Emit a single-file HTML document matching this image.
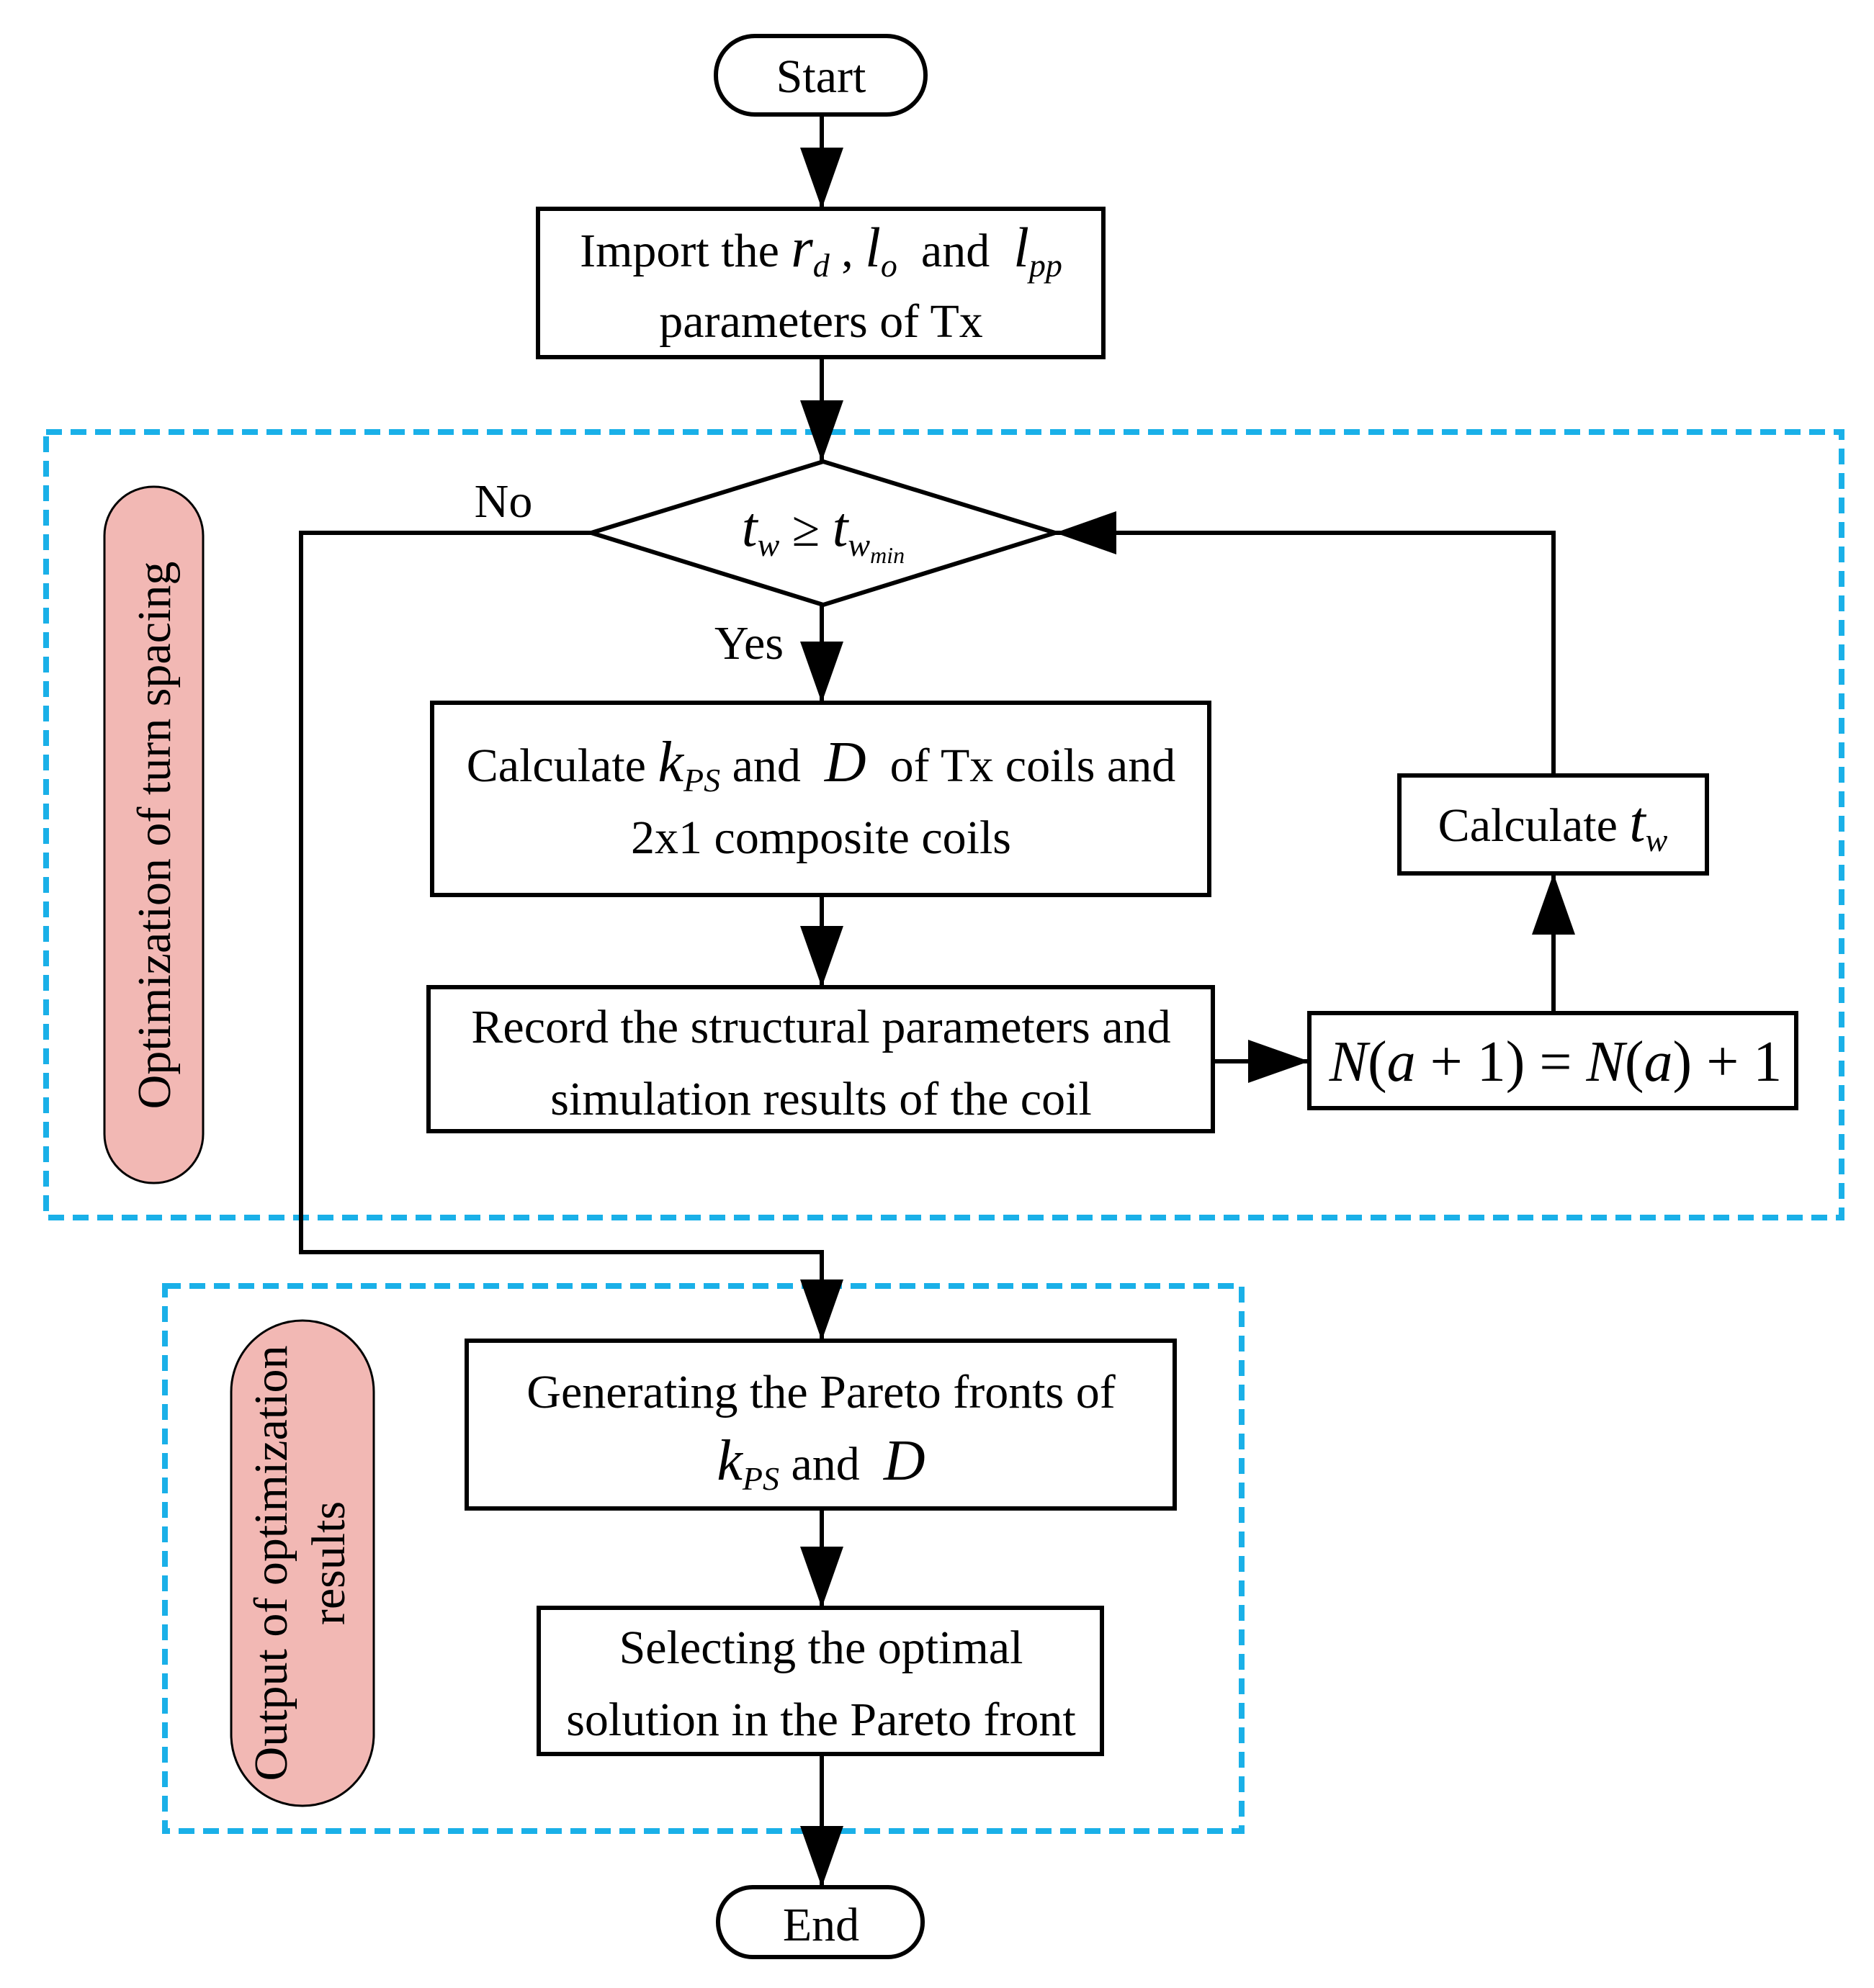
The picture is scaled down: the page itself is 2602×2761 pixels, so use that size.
<!DOCTYPE html>
<html><head><meta charset="utf-8"><style>
html,body{margin:0;padding:0;background:#fff}
svg{display:block}
text{font-family:"Liberation Serif",serif;font-size:66px;fill:#000;white-space:pre}
.i{font-style:italic}
</style></head><body>
<svg width="2602" height="2761" viewBox="0 0 2602 2761" xmlns="http://www.w3.org/2000/svg" xml:space="preserve">
<defs>
<marker id="a" markerUnits="userSpaceOnUse" markerWidth="90" markerHeight="64" refX="85" refY="30" orient="auto">
<path d="M0,0 L85,30 L0,60 Z" fill="#000"/>
</marker>
</defs>
<g fill="none" stroke="#1ab0e8" stroke-width="8" stroke-dasharray="22,12">
<rect x="64" y="600" width="2493" height="1091"/>
<rect x="229" y="1786" width="1495" height="757"/>
</g>
<g fill="#f2b8b4" stroke="#000" stroke-width="3">
<rect x="145" y="676" width="137" height="967" rx="68"/>
<rect x="321" y="1834" width="198" height="674" rx="99"/>
</g>
<text transform="translate(236,1160) rotate(-90)" text-anchor="middle">Optimization of turn spacing</text>
<text transform="translate(398,2171) rotate(-90)" text-anchor="middle">Output of optimization</text>
<text transform="translate(478,2171) rotate(-90)" text-anchor="middle">results</text>
<g fill="none" stroke="#000" stroke-width="6">
<rect x="994" y="50" width="291" height="109" rx="54" fill="#fff"/>
<rect x="747" y="290" width="785" height="206" fill="#fff"/>
<path d="M821,740 L1143,641 L1465,740 L1143,840 Z" fill="#fff"/>
<rect x="600" y="976" width="1079" height="267"/>
<rect x="595" y="1371" width="1089" height="200"/>
<rect x="1818" y="1407" width="676" height="132"/>
<rect x="1943" y="1077" width="427" height="136"/>
<rect x="648" y="1862" width="983" height="233"/>
<rect x="748" y="2233" width="782" height="203"/>
<rect x="997" y="2621" width="284" height="97" rx="48"/>
<path d="M1141,159 L1141,290" marker-end="url(#a)"/>
<path d="M1141,496 L1141,641" marker-end="url(#a)"/>
<path d="M1141,840 L1141,976" marker-end="url(#a)"/>
<path d="M1141,1243 L1141,1371" marker-end="url(#a)"/>
<path d="M1684,1474 L1818,1474" marker-end="url(#a)"/>
<path d="M2157,1407 L2157,1213" marker-end="url(#a)"/>
<path d="M2157,1077 L2157,740 L1465,740" marker-end="url(#a)"/>
<path d="M821,740 L418,740 L418,1739 L1141,1739 L1141,1862" marker-end="url(#a)"/>
<path d="M1141,2095 L1141,2233" marker-end="url(#a)"/>
<path d="M1141,2436 L1141,2621" marker-end="url(#a)"/>
</g>
<text x="1140" y="128" text-anchor="middle">Start</text>
<text x="1140" y="2695" text-anchor="middle">End</text>
<text x="1140" y="370" text-anchor="middle">Import the <tspan class="i" font-size="78">r</tspan><tspan class="i" font-size="46" dy="14">d</tspan><tspan dy="-14"> , </tspan><tspan class="i" font-size="78">l</tspan><tspan class="i" font-size="46" dy="14">o</tspan><tspan dy="-14">  and  </tspan><tspan class="i" font-size="78">l</tspan><tspan class="i" font-size="46" dy="14">pp</tspan></text>
<text x="1140" y="468" text-anchor="middle">parameters of Tx</text>
<text x="1143" y="758" text-anchor="middle"><tspan class="i" font-size="78">t</tspan><tspan class="i" font-size="46" dy="14">w</tspan><tspan dy="-14" font-size="70"> ≥ </tspan><tspan class="i" font-size="78">t</tspan><tspan class="i" font-size="46" dy="14">w</tspan><tspan class="i" font-size="32" dy="10">min</tspan></text>
<text x="699" y="718" text-anchor="middle">No</text>
<text x="1040" y="915" text-anchor="middle">Yes</text>
<text x="1140" y="1085" text-anchor="middle">Calculate <tspan class="i" font-size="80">k</tspan><tspan class="i" font-size="46" dy="14">PS</tspan><tspan dy="-14"> and  </tspan><tspan class="i" font-size="80">D</tspan><tspan>  of Tx coils and</tspan></text>
<text x="1140" y="1185" text-anchor="middle">2x1 composite coils</text>
<text x="1140" y="1448" text-anchor="middle">Record the structural parameters and</text>
<text x="1140" y="1548" text-anchor="middle">simulation results of the coil</text>
<text x="2160" y="1501" text-anchor="middle" style="font-size:80px"><tspan class="i">N</tspan>(<tspan class="i">a</tspan> + 1) = <tspan class="i">N</tspan>(<tspan class="i">a</tspan>) + 1</text>
<text x="2156" y="1168" text-anchor="middle">Calculate <tspan class="i" font-size="80">t</tspan><tspan class="i" font-size="46" dy="14">w</tspan></text>
<text x="1140" y="1955" text-anchor="middle">Generating the Pareto fronts of</text>
<text x="1140" y="2055" text-anchor="middle"><tspan class="i" font-size="80">k</tspan><tspan class="i" font-size="46" dy="14">PS</tspan><tspan dy="-14"> and  </tspan><tspan class="i" font-size="80">D</tspan></text>
<text x="1140" y="2310" text-anchor="middle">Selecting the optimal</text>
<text x="1140" y="2410" text-anchor="middle">solution in the Pareto front</text>
</svg>
</body></html>
